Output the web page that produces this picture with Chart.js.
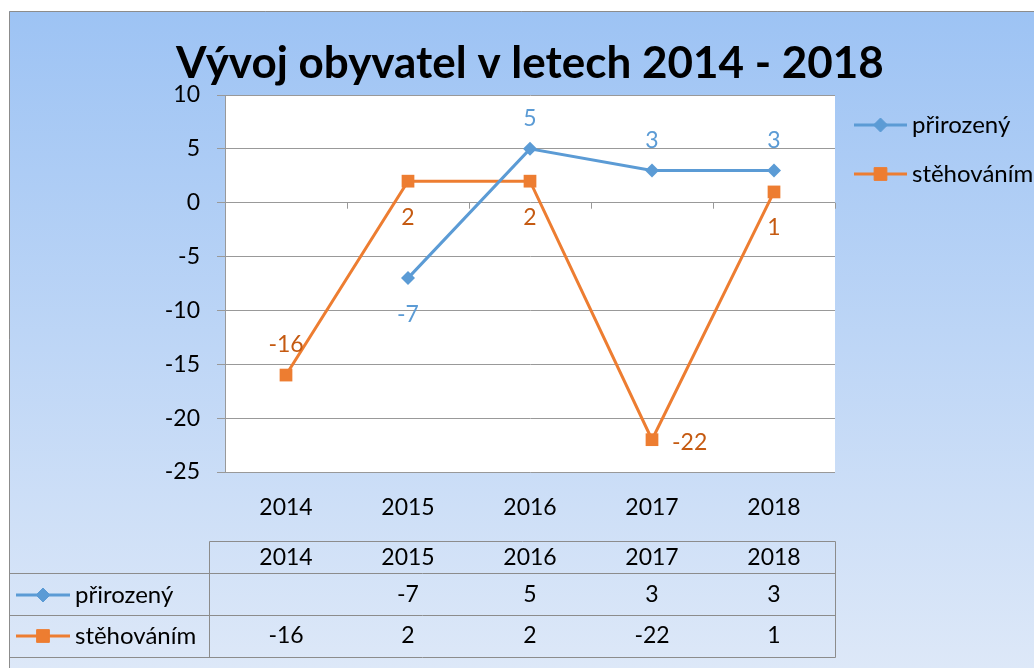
<!DOCTYPE html>
<html>
<head>
<meta charset="utf-8">
<script src="https://cdn.jsdelivr.net/npm/chart.js@4.4.1/dist/chart.umd.min.js"></script>
<style>
  html, body { margin: 0; padding: 0; background: #fff; }
  #c { display: block; }
</style>
</head>
<body>
<canvas id="c" width="1034" height="668"></canvas>
<script>
// DATA
const years = ["2014", "2015", "2016", "2017", "2018"];
const prirozeny = [null, -7, 5, 3, 3];
const stehovanim = [-16, 2, 2, -22, 1];
const seriesNames = ["přirozený", "stěhováním"];
const titleText = "Vývoj obyvatel v letech 2014 - 2018";

const FONT = "Lato, 'Open Sans', sans-serif";
const BLUE = "#5B9BD5";
const ORANGE = "#ED7D31";
const ORANGE_TXT = "#C55A11";

function marker(ctx, style, x, y, color) {
    ctx.save();
    ctx.fillStyle = color;
    ctx.strokeStyle = color;
    Chart.helpers.drawPoint(ctx, {
        pointStyle: style.pointStyle, radius: style.radius, rotation: 0, borderWidth: 1
    }, x, y);
    ctx.restore();
}

function legendSample(ctx, x1, x2, y, ds) {
    ctx.save();
    ctx.strokeStyle = ds.borderColor;
    ctx.lineWidth = 3;
    ctx.beginPath();
    ctx.moveTo(x1, y);
    ctx.lineTo(x2, y);
    ctx.stroke();
    ctx.restore();
    marker(ctx, ds, (x1 + x2) / 2, y, ds.backgroundColor);
}

// background, title, legend, table, labels
const excelLook = {
    id: "excelLook",
    beforeDraw(chart) {
        const ctx = chart.ctx;
        const a = chart.chartArea;
        ctx.save();
        const g = ctx.createLinearGradient(0, 11, 0, chart.height);
        g.addColorStop(0, "#9DC3F4");
        g.addColorStop(1, "#DDE8F8");
        ctx.fillStyle = g;
        ctx.fillRect(9, 11, chart.width - 9, chart.height - 11);
        ctx.strokeStyle = "#8C8C8C";
        ctx.lineWidth = 1;
        ctx.beginPath();
        ctx.moveTo(9.5, chart.height);
        ctx.lineTo(9.5, 11.5);
        ctx.lineTo(chart.width, 11.5);
        ctx.stroke();
        ctx.fillStyle = "#fff";
        ctx.fillRect(a.left, a.top, a.right - a.left, a.bottom - a.top);
        ctx.restore();
    },
    beforeDatasetsDraw(chart) {
        // small tick marks on the zero line between categories
        const ctx = chart.ctx;
        const x = chart.scales.x;
        const y0 = chart.scales.y.getPixelForValue(0);
        const step = (x.right - x.left) / years.length;
        ctx.save();
        ctx.strokeStyle = "#999";
        ctx.lineWidth = 1;
        ctx.beginPath();
        for (let i = 0; i <= years.length; i++) {
            const px = Math.round(x.left + i * step) + 0.5;
            ctx.moveTo(px, y0);
            ctx.lineTo(px, y0 + 6);
        }
        ctx.stroke();
        ctx.restore();
    },
    afterDatasetsDraw(chart) {
        const ctx = chart.ctx;
        ctx.save();
        ctx.font = "23px " + FONT;
        chart.data.datasets.forEach((ds, di) => {
            const meta = chart.getDatasetMeta(di);
            ds.data.forEach((v, i) => {
                if (v === null) return;
                const p = meta.data[i];
                const pos = ds.labelPos[i];
                ctx.fillStyle = ds.labelColor;
                ctx.textBaseline = "middle";
                if (pos === "right") {
                    ctx.textAlign = "left";
                    ctx.fillText(String(v), p.x + 20, p.y + 3);
                } else {
                    ctx.textAlign = "center";
                    ctx.fillText(String(v), p.x, pos === "above" ? p.y - 30 : p.y + 36);
                }
            });
        });
        ctx.restore();
    },
    afterDraw(chart) {
        const ctx = chart.ctx;
        const x = chart.scales.x;
        const dss = chart.data.datasets;
        ctx.save();

        // title
        ctx.fillStyle = "#000";
        ctx.font = "bold 44px " + FONT;
        ctx.textAlign = "center";
        ctx.textBaseline = "alphabetic";
        ctx.fillText(titleText, 530, 78);

        // legend on the right
        ctx.font = "24px " + FONT;
        ctx.textAlign = "left";
        ctx.textBaseline = "middle";
        [125, 174].forEach((ly, i) => {
            legendSample(ctx, 854, 907, ly, dss[i]);
            ctx.fillStyle = "#000";
            ctx.fillText(seriesNames[i], 912, ly);
        });

        // data table
        const tl = 209.5, tr = x.right + 0.5, left = 9.5;
        const rows = [541.5, 573.5, 615.5, 657.5];
        ctx.strokeStyle = "#8C8C8C";
        ctx.lineWidth = 1;
        ctx.beginPath();
        ctx.moveTo(tl, rows[0]); ctx.lineTo(tr, rows[0]);
        for (let r = 1; r < rows.length; r++) {
            ctx.moveTo(left, rows[r]); ctx.lineTo(tr, rows[r]);
        }
        ctx.moveTo(tl, rows[0]); ctx.lineTo(tl, rows[3]);
        ctx.moveTo(tr, rows[0]); ctx.lineTo(tr, rows[3]);
        ctx.stroke();

        ctx.font = "23px " + FONT;
        ctx.fillStyle = "#000";
        ctx.textAlign = "center";
        years.forEach((yr, i) => {
            ctx.fillText(yr, x.getPixelForValue(i), 558);
        });
        const rowVals = [prirozeny, stehovanim];
        [595, 636].forEach((ry, r) => {
            legendSample(ctx, 16, 70, ry, dss[r]);
            ctx.fillStyle = "#000";
            ctx.textAlign = "left";
            ctx.font = "24px " + FONT;
            ctx.fillText(seriesNames[r], 75, ry);
            ctx.textAlign = "center";
            ctx.font = "23px " + FONT;
            rowVals[r].forEach((v, i) => {
                if (v !== null) ctx.fillText(String(v), x.getPixelForValue(i), ry);
            });
        });
        ctx.restore();
    }
};

new Chart(document.getElementById("c"), {
    type: "line",
    data: {
        labels: years,
        datasets: [{
            label: seriesNames[0],
            data: prirozeny,
            borderColor: BLUE,
            backgroundColor: BLUE,
            borderWidth: 3,
            pointStyle: "rectRot",
            radius: 7,
            pointRadius: 7,
            pointBorderWidth: 0,
            labelColor: BLUE,
            labelPos: ["", "below", "above", "above", "above"],
            spanGaps: false,
            tension: 0
        }, {
            label: seriesNames[1],
            data: stehovanim,
            borderColor: ORANGE,
            backgroundColor: ORANGE,
            borderWidth: 3,
            pointStyle: "rect",
            radius: 9,
            pointRadius: 9,
            pointBorderWidth: 0,
            labelColor: ORANGE_TXT,
            labelPos: ["above", "below", "below", "right", "below"],
            tension: 0
        }]
    },
    options: {
        responsive: false,
        animation: false,
        events: [],
        layout: { padding: { left: 9, top: 95, right: 199, bottom: 136 } },
        plugins: {
            legend: { display: false },
            title: { display: false },
            tooltip: { enabled: false }
        },
        scales: {
            x: {
                offset: true,
                grid: { display: false, drawTicks: false },
                border: { display: false },
                ticks: { color: "#000", font: { family: FONT, size: 23 }, padding: 22, maxRotation: 0 },
                afterFit(s) { s.height = 60; }
            },
            y: {
                min: -25,
                max: 10,
                grid: { color: "#999", tickLength: 8 },
                border: { display: true, color: "#999" },
                ticks: { stepSize: 5, color: "#000", font: { family: FONT, size: 23 }, padding: 17 },
                afterFit(s) { s.width = 216; }
            }
        }
    },
    plugins: [excelLook]
});
</script>
</body>
</html>
